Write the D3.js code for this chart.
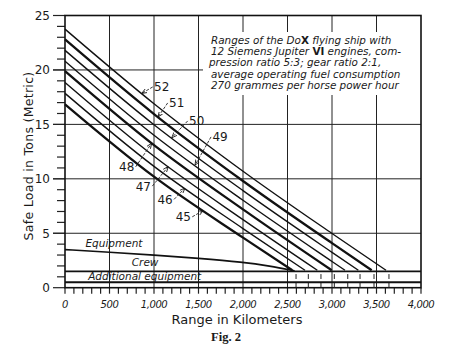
<!DOCTYPE html>
<html>
<head>
<meta charset="utf-8">
<script src="https://cdn.jsdelivr.net/npm/d3@7"></script>
<style>
  body { margin: 0; background: #fff; }
  svg text { fill: #1a1a1a; }
</style>
</head>
<body>
<div id="chart"></div>
<script>
// range curves of the flying ship, one per take-off weight label
const lineLabels     = ["52", "51", "50", "49", "48", "47", "46", "45"];
const lineStartTons  = [23.75, 22.8, 21.8, 20.8, 19.9, 18.85, 17.85, 16.85];
const lineAt1000Tons = [16.9, 15.95, 14.97, 14.0, 13.1, 12.07, 11.14, 10.2];
const lineAt2000Tons = [10.7, 9.8, 8.92, 8.03, 7.19, 6.25, 5.43, 4.6];
const lineAt3000Tons = [4.98, 4.09, 3.25, 2.41, null, null, null, null];
const lineRangeKm    = [3607, 3446, 3296, 3146, 2997, 2835, 2697, 2554];
const lineEndTons    = 1.6;
const thickLines     = ["51", "48", "45"];

// little range marks below the curve ends
const rangeMarkKm = [2596, 2734, 2876, 3026, 3177, 3315, 3472, 3640];
const rangeMarkSpans = [[0, 0.5], [0.8, 1.25]];

// load lines at the bottom
const equipKm   = [0, 500, 1000, 1500, 2000, 2300, 2580];
const equipTons = [3.5, 3.25, 3.0, 2.7, 2.35, 2.0, 1.55];
const crewTons = 1.5;
const additionalTons = 0.5;

// curve annotations
const annTargetKm  = [862, 1045, 1199, 1461, 974, 1161, 1348, 1554];
const annLabelKm   = [1087, 1255, 1480, 1742, 693, 880, 1124, 1329];
const annLabelTons = [18.44, 16.97, 15.32, 13.85, 11.1, 9.33, 8.11, 6.51];

// axes
const xTicks = [0, 500, 1000, 1500, 2000, 2500, 3000, 3500, 4000];
const yTicks = [0, 5, 10, 15, 20, 25];

const noteLines = [
    ["Ranges of the Do", "X", " flying ship with"],
    ["12 Siemens Jupiter ", "VI", " engines, com-"],
    ["pression  ratio 5:3; gear ratio 2:1,"],
    ["average operating fuel consumption"],
    ["270 grammes per horse power hour"]
];

const W = 466, H = 351;
const plot = { left: 65, right: 421, top: 15.5, bottom: 287.7 };

const svg = d3.select("#chart").append("svg")
    .attr("width", W).attr("height", H)
    .style("font-family", "'DejaVu Sans', sans-serif");

const x = d3.scaleLinear().domain([0, 4000]).range([plot.left, plot.right]);
const y = d3.scaleLinear().domain([0, 25]).range([plot.bottom, plot.top]);

// Grid
svg.append("g").selectAll("line")
    .data(xTicks.slice(1, -1))
    .enter().append("line")
    .attr("x1", d => x(d)).attr("x2", d => x(d))
    .attr("y1", y(25)).attr("y2", y(0))
    .attr("stroke", "#222").attr("stroke-width", 1);

svg.append("g").selectAll("line")
    .data(yTicks.slice(1, -1))
    .enter().append("line")
    .attr("x1", plot.left - 12).attr("x2", x(4000))
    .attr("y1", d => y(d)).attr("y2", d => y(d))
    .attr("stroke", "#222").attr("stroke-width", 1);

// white patch behind the note
svg.append("rect")
    .attr("x", 203).attr("y", 32)
    .attr("width", x(4000) - 203).attr("height", 63)
    .attr("fill", "#fff");

// Minor ticks: tons on the left, 100 km below
svg.append("g").selectAll("line")
    .data(d3.range(0, 26))
    .enter().append("line")
    .attr("x1", d => d % 5 === 0 ? plot.left - 12 : plot.left - 8).attr("x2", plot.left)
    .attr("y1", d => y(d)).attr("y2", d => y(d))
    .attr("stroke", "#222").attr("stroke-width", 1.2);

svg.append("g").selectAll("line")
    .data(d3.range(0, 4001, 100))
    .enter().append("line")
    .attr("x1", d => x(d)).attr("x2", d => x(d))
    .attr("y1", y(0)).attr("y2", y(0) + 6)
    .attr("stroke", "#222").attr("stroke-width", 1.2);

// Frame
svg.append("rect")
    .attr("x", plot.left).attr("y", plot.top)
    .attr("width", plot.right - plot.left).attr("height", plot.bottom - plot.top)
    .attr("fill", "none").attr("stroke", "#111").attr("stroke-width", 1.6);

// Tick labels
svg.append("g").selectAll("text")
    .data(yTicks)
    .enter().append("text")
    .attr("x", plot.left - 15).attr("y", d => y(d) + 4.5)
    .attr("text-anchor", "end")
    .style("font-size", "12px")
    .text(d => d);

svg.append("g").selectAll("text")
    .data(xTicks)
    .enter().append("text")
    .attr("x", d => x(d)).attr("y", y(0) + 20)
    .attr("text-anchor", "middle")
    .style("font-size", "10px")
    .style("letter-spacing", "-0.4px")
    .style("font-style", "italic")
    .text(d => d3.format(",")(d));

// Range curves
const line = d3.line()
    .x(d => x(d[0])).y(d => y(d[1]))
    .curve(d3.curveMonotoneX);

const curves = lineLabels.map((lab, i) => {
    const pts = [[0, lineStartTons[i]], [1000, lineAt1000Tons[i]], [2000, lineAt2000Tons[i]]];
    if (lineAt3000Tons[i] !== null) pts.push([3000, lineAt3000Tons[i]]);
    pts.push([lineRangeKm[i], lineEndTons]);
    return { label: lab, pts: pts };
});

svg.append("g").selectAll("path")
    .data(curves)
    .enter().append("path")
    .attr("d", d => line(d.pts))
    .attr("fill", "none")
    .attr("stroke", "#111")
    .attr("stroke-width", d => thickLines.includes(d.label) ? 2.3 : 1.4);

// range marks
rangeMarkSpans.forEach(span => {
    svg.append("g").selectAll("line")
        .data(rangeMarkKm)
        .enter().append("line")
        .attr("x1", d => x(d)).attr("x2", d => x(d))
        .attr("y1", y(span[0])).attr("y2", y(span[1]))
        .attr("stroke", "#222").attr("stroke-width", 1);
});

// Equipment / crew / additional equipment lines
svg.append("path")
    .attr("d", d3.line().x(d => x(d[0])).y(d => y(d[1])).curve(d3.curveBasis)(equipKm.map((k, i) => [k, equipTons[i]])))
    .attr("fill", "none").attr("stroke", "#111").attr("stroke-width", 1.6);

[crewTons, additionalTons].forEach(t => {
    svg.append("line")
        .attr("x1", x(0)).attr("x2", x(4000))
        .attr("y1", y(t)).attr("y2", y(t))
        .attr("stroke", "#111").attr("stroke-width", 1.8);
});

const loadLabels = [
    { text: "Equipment", km: 230, tons: 3.75 },
    { text: "Crew", km: 750, tons: 1.95 },
    { text: "Additional equipment", km: 260, tons: 0.7 }
];
svg.append("g").selectAll("text")
    .data(loadLabels)
    .enter().append("text")
    .attr("x", d => x(d.km)).attr("y", d => y(d.tons))
    .style("font-size", "10.5px")
    .style("font-style", "italic")
    .text(d => d.text);

// Annotations with arrows
svg.append("defs").append("marker")
    .attr("id", "arr")
    .attr("viewBox", "0 0 10 10")
    .attr("refX", 10).attr("refY", 5)
    .attr("markerWidth", 6).attr("markerHeight", 6)
    .attr("orient", "auto")
    .append("path")
    .attr("d", "M0,1 L10,5 L0,9")
    .attr("fill", "none").attr("stroke", "#111").attr("stroke-width", 1.5);

function tonsOnCurve(c, km) {
    const p = c.pts;
    for (let k = 0; k < p.length - 1; k++) {
        if (km >= p[k][0] && km <= p[k + 1][0]) {
            const f = (km - p[k][0]) / (p[k + 1][0] - p[k][0]);
            return p[k][1] + f * (p[k + 1][1] - p[k][1]);
        }
    }
    return p[p.length - 1][1];
}

curves.forEach((c, i) => {
    const lx = x(annLabelKm[i]), ly = y(annLabelTons[i]);
    const tx = x(annTargetKm[i]), ty = y(tonsOnCurve(c, annTargetKm[i]));
    const above = annLabelKm[i] > annTargetKm[i];
    const sx = above ? lx - 9 : lx + 9;
    const sy = ly;
    svg.append("line")
        .attr("x1", sx).attr("y1", sy).attr("x2", tx).attr("y2", ty)
        .attr("stroke", "#222").attr("stroke-width", 0.9)
        .attr("stroke-dasharray", "3,1.5")
        .attr("marker-end", "url(#arr)");
    svg.append("text")
        .attr("x", lx).attr("y", ly + 4.5)
        .attr("text-anchor", "middle")
        .style("font-size", "12px")
        .text(c.label);
});

// Note, one text per line
noteLines.forEach((parts, i) => {
    const t = svg.append("text")
        .attr("x", i === 2 ? 209 : 211).attr("y", 44 + i * 11.2)
        .style("font-size", "10.4px")
        .style("font-style", "italic");
    parts.forEach(p => {
        const ts = t.append("tspan").text(p);
        if (p === "X" || p === "VI") ts.style("font-weight", "bold").style("font-style", "normal");
    });
});

// Axis titles
svg.append("text")
    .attr("x", 237).attr("y", 324)
    .attr("text-anchor", "middle")
    .style("font-size", "13px")
    .text("Range in Kilometers");

svg.append("text")
    .attr("transform", "translate(33,156) rotate(-90)")
    .attr("text-anchor", "middle")
    .style("font-size", "12.5px")
    .style("letter-spacing", "0.3px")
    .text("Safe Load in Tons (Metric)");

svg.append("text")
    .attr("x", 226).attr("y", 341)
    .attr("text-anchor", "middle")
    .style("font-family", "'Liberation Serif', serif")
    .style("font-weight", "bold")
    .style("font-size", "12.5px")
    .text("Fig. 2");
</script>
</body>
</html>
